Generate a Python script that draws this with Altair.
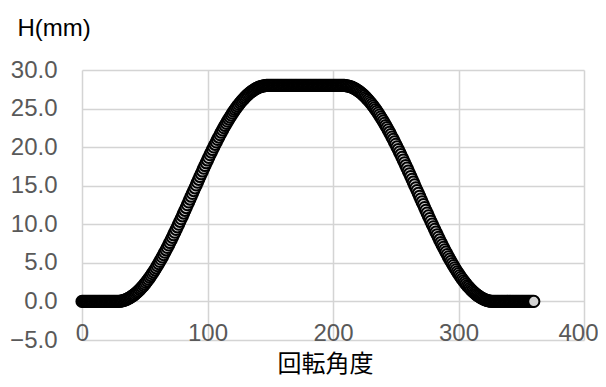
import altair as alt
import pandas as pd

# Rotation angle (degrees), one point per degree
angles = list(range(0, 361))

# Lift H (mm)
low_start = [0.0] * 28          # 0..27 deg
rise = [                        # 28..148 deg
    0.00, 0.00, 0.02, 0.04, 0.08, 0.12, 0.17, 0.23, 0.31, 0.39,
    0.48, 0.58, 0.69, 0.80, 0.93, 1.07, 1.21, 1.36, 1.53, 1.70,
    1.88, 2.06, 2.26, 2.46, 2.67, 2.89, 3.12, 3.35, 3.60, 3.84,
    4.10, 4.36, 4.63, 4.91, 5.19, 5.48, 5.77, 6.07, 6.38, 6.69,
    7.00, 7.32, 7.64, 7.97, 8.31, 8.64, 8.98, 9.33, 9.67, 10.02,
    10.38, 10.73, 11.09, 11.45, 11.81, 12.17, 12.54, 12.90, 13.27, 13.63,
    14.00, 14.37, 14.73, 15.10, 15.46, 15.83, 16.19, 16.55, 16.91, 17.27,
    17.62, 17.98, 18.33, 18.67, 19.02, 19.36, 19.69, 20.03, 20.36, 20.68,
    21.00, 21.31, 21.62, 21.93, 22.23, 22.52, 22.81, 23.09, 23.37, 23.64,
    23.90, 24.16, 24.40, 24.65, 24.88, 25.11, 25.33, 25.54, 25.74, 25.94,
    26.12, 26.30, 26.47, 26.64, 26.79, 26.93, 27.07, 27.20, 27.31, 27.42,
    27.52, 27.61, 27.69, 27.77, 27.83, 27.88, 27.92, 27.96, 27.98, 28.00,
    28.00,
]
top = [28.0] * 59               # 149..207 deg
fall = [                        # 208..328 deg
    28.00, 28.00, 27.98, 27.96, 27.92, 27.88, 27.83, 27.77, 27.69, 27.61,
    27.52, 27.42, 27.31, 27.20, 27.07, 26.93, 26.79, 26.64, 26.47, 26.30,
    26.12, 25.94, 25.74, 25.54, 25.33, 25.11, 24.88, 24.65, 24.40, 24.16,
    23.90, 23.64, 23.37, 23.09, 22.81, 22.52, 22.23, 21.93, 21.62, 21.31,
    21.00, 20.68, 20.36, 20.03, 19.69, 19.36, 19.02, 18.67, 18.33, 17.98,
    17.62, 17.27, 16.91, 16.55, 16.19, 15.83, 15.46, 15.10, 14.73, 14.37,
    14.00, 13.63, 13.27, 12.90, 12.54, 12.17, 11.81, 11.45, 11.09, 10.73,
    10.38, 10.02, 9.67, 9.33, 8.98, 8.64, 8.31, 7.97, 7.64, 7.32,
    7.00, 6.69, 6.38, 6.07, 5.77, 5.48, 5.19, 4.91, 4.63, 4.36,
    4.10, 3.84, 3.60, 3.35, 3.12, 2.89, 2.67, 2.46, 2.26, 2.06,
    1.88, 1.70, 1.53, 1.36, 1.21, 1.07, 0.93, 0.80, 0.69, 0.58,
    0.48, 0.39, 0.31, 0.23, 0.17, 0.12, 0.08, 0.04, 0.02, 0.00,
    0.00,
]
low_end = [0.0] * 32            # 329..360 deg

heights = low_start + rise + top + fall + low_end

x_ticks = [0, 100, 200, 300, 400]
y_ticks = [-5, 0, 5, 10, 15, 20, 25, 30]

df = pd.DataFrame({"angle": angles, "H": heights})

chart = alt.Chart(df).mark_point(
    shape="circle",
    size=125,
    fill="#d3d3d3",
    fillOpacity=1,
    stroke="#000000",
    strokeWidth=2,
    opacity=1,
).encode(
    x=alt.X(
        "angle:Q",
        scale=alt.Scale(domain=[0, 400], nice=False, zero=False),
        axis=alt.Axis(
            values=x_ticks,
            title="回転角度",
            titleFont="Noto Sans CJK JP",
            titleFontSize=24,
            titleFontWeight="normal",
            titleColor="#000000",
            titleX=243,
            titleY=24,
            titleAlign="center",
            titleBaseline="middle",
            labelBaseline="alphabetic",
            labelPadding=0,
            labelOffset={"condition": {"test": "datum.value == 400", "value": -6}, "value": 0},
            labelFlush=False,
            labelOverlap=False,
        ),
    ),
    y=alt.Y(
        "H:Q",
        scale=alt.Scale(domain=[-5, 30], nice=False, zero=False),
        axis=alt.Axis(
            values=y_ticks,
            format=".1f",
            title="H(mm)",
            titleFont="Liberation Sans",
            titleFontSize=24,
            titleFontWeight="normal",
            titleColor="#000000",
            titleAngle=0,
            titleAlign="left",
            titleBaseline="alphabetic",
            titleX=-65,
            titleY=-35,
            labelPadding=25,
            labelFlush=False,
            labelOverlap=False,
        ),
    ),
).properties(
    width=502,
    height=270,
    autosize=alt.AutoSizeParams(type="none"),
    padding={"left": 74, "top": 62, "right": 14, "bottom": 39},
).configure_view(
    stroke=None,
).configure_axis(
    domain=False,
    ticks=False,
    tickSize=0,
    grid=True,
    gridColor="#d4d4d4",
    gridWidth=1.5,
    labelFont="Liberation Sans",
    labelFontSize=24,
    labelColor="#595959",
)

chart.save("out.html", embed_options={"renderer": "svg", "actions": False})
